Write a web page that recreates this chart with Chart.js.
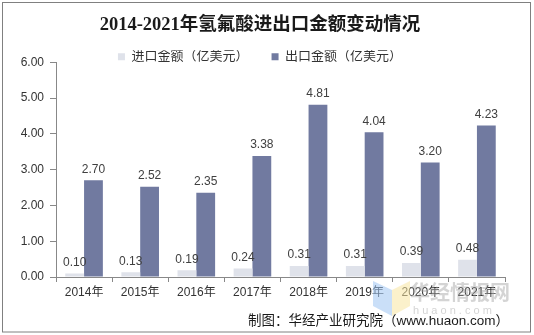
<!DOCTYPE html>
<html>
<head>
<meta charset="utf-8">
<script src="https://cdn.jsdelivr.net/npm/chart.js@4/dist/chart.umd.min.js"></script>
<style>
	html, body { margin: 0; padding: 0; background: #fff; }
	#wrap { width: 534px; height: 335px; }
</style>
</head>
<body>
<div id="wrap"><canvas id="myChart"></canvas></div>
<script>
// Подписи и значения
const years = ['2014年', '2015年', '2016年', '2017年', '2018年', '2019年', '2020年', '2021年'];
const importValues = [0.10, 0.13, 0.19, 0.24, 0.31, 0.31, 0.39, 0.48];
const exportValues = [2.70, 2.52, 2.35, 3.38, 4.81, 4.04, 3.20, 4.23];
const yTicks = [0, 1, 2, 3, 4, 5, 6];

const cjk = '"Liberation Sans", "Noto Sans CJK SC", sans-serif';

// подписи над столбцами
const valueLabels = {
	id: 'valueLabels',
	afterDatasetsDraw(chart) {
		const ctx = chart.ctx;
		ctx.save();
		ctx.font = '12px ' + cjk;
		ctx.fillStyle = '#404040';
		ctx.textAlign = 'center';
		ctx.textBaseline = 'bottom';
		chart.data.datasets.forEach((ds, i) => {
			chart.getDatasetMeta(i).data.forEach((bar, j) => {
				ctx.fillText(ds.data[j].toFixed(2), bar.x, bar.y - 5);
			});
		});
		ctx.restore();
	}
};

// легенда вплотную к области графика (убираем лишние 10px снизу)
const tightLegend = {
	id: 'tightLegend',
	beforeLayout(chart) {
		const lg = chart.legend;
		if (lg && !lg._tight) {
			const fit = lg.fit.bind(lg);
			lg.fit = function () {
				fit();
				this.height -= 11;
			};
			lg._tight = true;
		}
	}
};

// рамка, подпись источника, водяной знак
const decor = {
	id: 'decor',
	beforeDraw(chart) {
		const ctx = chart.ctx;
		ctx.save();
		ctx.fillStyle = '#fff';
		ctx.fillRect(0, 0, chart.width, chart.height);
		ctx.restore();
	},
	afterDraw(chart) {
		const ctx = chart.ctx;
		ctx.save();
		ctx.strokeStyle = '#808080';
		ctx.lineWidth = 1;
		ctx.strokeRect(2.5, 2.5, 528, 329.5);

		// watermark
		ctx.globalAlpha = 0.55;
		ctx.fillStyle = '#9fc4f2';
		ctx.beginPath();
		ctx.moveTo(373, 281); ctx.lineTo(392, 290); ctx.lineTo(392, 316); ctx.lineTo(373, 306);
		ctx.closePath(); ctx.fill();
		ctx.fillStyle = '#f7e6a0';
		ctx.beginPath();
		ctx.moveTo(410, 281); ctx.lineTo(392, 290); ctx.lineTo(392, 316); ctx.lineTo(410, 306);
		ctx.closePath(); ctx.fill();
		ctx.globalAlpha = 0.45;
		ctx.fillStyle = '#a0a0a0';
		ctx.font = 'bold 20px "Noto Sans CJK SC", sans-serif';
		ctx.textAlign = 'left';
		ctx.textBaseline = 'middle';
		ctx.fillText('华经情报网', 410, 292);
		ctx.font = '11px "Liberation Sans", sans-serif';
		ctx.fillText('h u a o n . c o m', 413, 311);
		ctx.globalAlpha = 1;

		ctx.fillStyle = '#1a1a1a';
		ctx.font = '13.5px ' + cjk;
		ctx.textAlign = 'right';
		ctx.textBaseline = 'middle';
		ctx.fillText('制图：华经产业研究院（www.huaon.com）', 509, 321);
		ctx.restore();
	}
};

const data = {
	labels: years,
	datasets: [{
		label: '进口金额（亿美元）',
		backgroundColor: '#dfe2ea',
		data: importValues,
		categoryPercentage: 0.67,
		barPercentage: 1.0
	}, {
		label: '出口金额（亿美元）',
		backgroundColor: '#717aa0',
		data: exportValues,
		categoryPercentage: 0.67,
		barPercentage: 1.0
	}]
};

const options = {
	responsive: true,
	maintainAspectRatio: false,
	animation: false,
	layout: {
		padding: { left: 0, right: 14, top: 0, bottom: 28 }
	},
	plugins: {
		tooltip: { enabled: false },
		title: {
			display: true,
			text: '2014-2021年氢氟酸进出口金额变动情况',
			color: '#1a1a1a',
			font: { family: '"Liberation Serif", "Noto Sans CJK SC", serif', size: 18.5, weight: 'bold' },
			padding: { top: 14, bottom: 14 }
		},
		legend: {
			position: 'top',
			labels: {
				color: '#333',
				font: { family: cjk, size: 13 },
				boxWidth: 7,
				boxHeight: 7,
				padding: 0,
				generateLabels: chart => {
					const items = Chart.defaults.plugins.legend.labels.generateLabels(chart);
					items[0].text += '\u3000\u3000 ';
					return items;
				}
			}
		}
	},
	scales: {
		x: {
			grid: {
				drawOnChartArea: false,
				drawTicks: true,
				tickLength: 5,
				color: '#888',
				offset: true
			},
			border: { color: '#888' },
			ticks: {
				color: '#333',
				font: { family: cjk, size: 12 },
				padding: 3,
				maxRotation: 0
			},
			afterFit: s => { s.height = 30; }
		},
		y: {
			min: 0,
			max: 6,
			grid: {
				drawOnChartArea: false,
				tickLength: 6,
				color: '#888'
			},
			border: { color: '#888' },
			ticks: {
				stepSize: 1,
				color: '#333',
				font: { family: cjk, size: 12 },
				padding: 6,
				callback: v => yTicks.includes(v) ? v.toFixed(2) : ''
			},
			afterFit: s => { s.width = 56; }
		},
		yR: {
			position: 'right',
			grid: { display: false },
			border: { display: false },
			ticks: { display: false },
			afterFit: s => { s.width = 15; }
		}
	}
};

window.addEventListener('load', () => {
	const elem = document.getElementById('myChart');
	if (elem) {
		const chart = new Chart(elem, {
			type: 'bar',
			data: data,
			options: options,
			plugins: [tightLegend, decor, valueLabels]
		});
	}
});
</script>
</body>
</html>
